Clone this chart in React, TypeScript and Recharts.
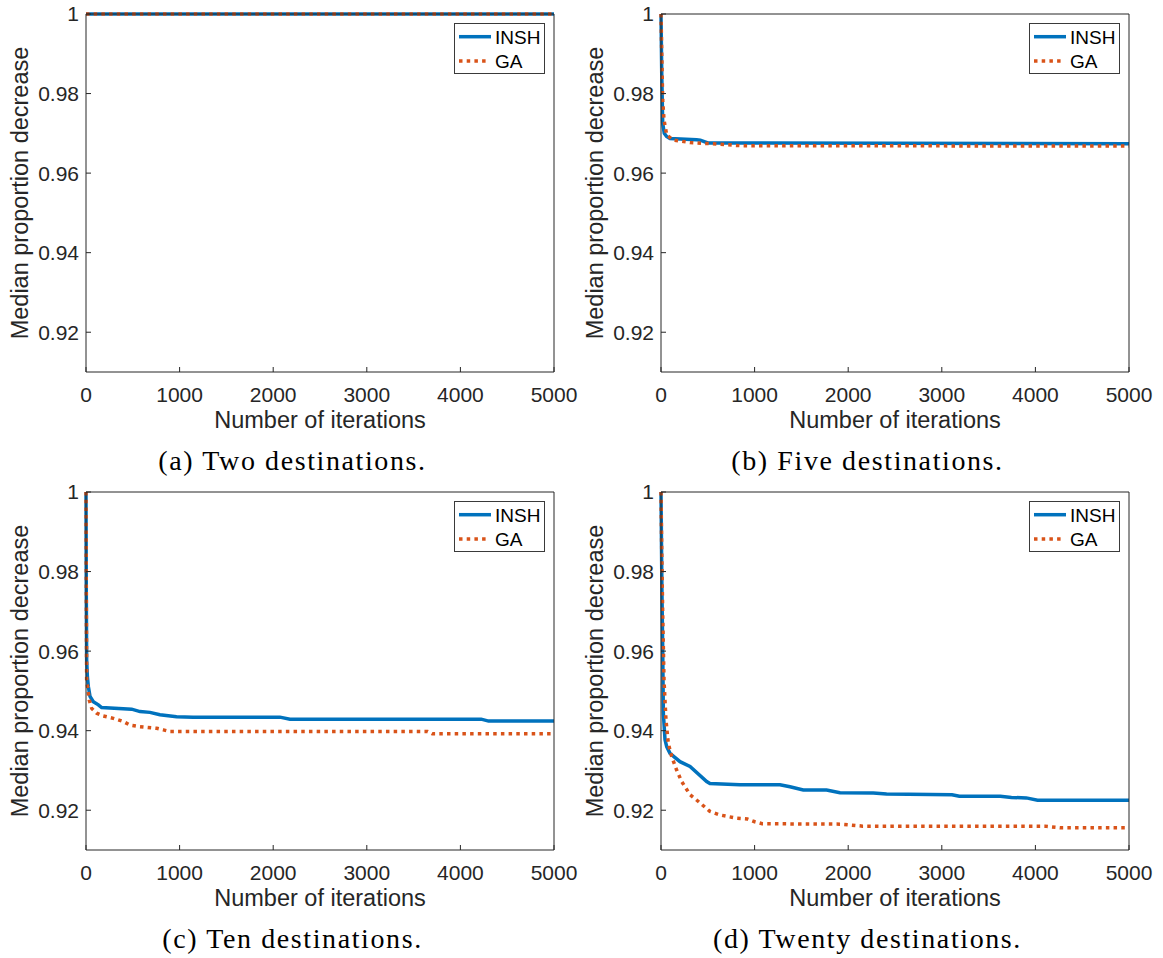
import { LineChart, Line, XAxis, YAxis, Legend } from "recharts";

// axes shared by all four panels
const X_TICKS = [0, 1000, 2000, 3000, 4000, 5000];
const Y_TICKS = [0.92, 0.94, 0.96, 0.98, 1];
const SERIES_ORDER = ["INSH", "GA"];

// [iteration, median proportion decrease]
const INSH_TWO = [[0, 1], [5000, 1]];
const GA_TWO = [[0, 1], [5000, 1]];

const INSH_FIVE = [
  [0, 1], [8, 0.985], [18, 0.9725], [35, 0.97], [60, 0.9692], [96, 0.9687],
  [380, 0.9684], [420, 0.9683], [500, 0.9676], [5000, 0.9674],
];
const GA_FIVE = [
  [0, 1], [8, 0.99], [18, 0.9784], [32, 0.9734], [61, 0.9696], [131, 0.9683],
  [310, 0.9677], [595, 0.9673], [844, 0.9669], [5000, 0.9668],
];

const INSH_TEN = [
  [0, 1], [3, 0.975], [7, 0.9578], [15, 0.9535], [25, 0.9511], [43, 0.9486],
  [78, 0.9473], [132, 0.9465], [167, 0.9458], [488, 0.9454], [577, 0.9448],
  [683, 0.9446], [790, 0.944], [968, 0.9435], [1143, 0.9434], [2072, 0.9434],
  [2179, 0.9429], [4222, 0.9429], [4301, 0.9424], [5000, 0.9424],
];
const GA_TEN = [
  [0, 1], [4, 0.97], [7, 0.9528], [35, 0.9477], [61, 0.9456], [114, 0.9444],
  [185, 0.9437], [292, 0.9431], [399, 0.9423], [470, 0.9414], [577, 0.941],
  [755, 0.9406], [826, 0.9402], [897, 0.9398], [3649, 0.9398], [3700, 0.9392],
  [5000, 0.9392],
];

const INSH_TWENTY = [
  [0, 1], [10, 0.975], [18, 0.961], [25, 0.9444], [43, 0.9377], [61, 0.936],
  [96, 0.9343], [203, 0.9322], [310, 0.931], [488, 0.9272], [523, 0.9267],
  [844, 0.9264], [1271, 0.9264], [1378, 0.9259], [1520, 0.9251], [1769, 0.9251],
  [1912, 0.9244], [2268, 0.9243], [2410, 0.9241], [3109, 0.9239], [3188, 0.9235],
  [3625, 0.9235], [3744, 0.9232], [3903, 0.9231], [4023, 0.9225], [5000, 0.9225],
];
const GA_TWENTY = [
  [0, 1], [8, 0.985], [18, 0.9695], [32, 0.9528], [53, 0.9427], [78, 0.9368],
  [114, 0.9335], [167, 0.9301], [221, 0.9272], [310, 0.9239], [399, 0.9222],
  [523, 0.9197], [630, 0.9188], [808, 0.918], [922, 0.9178], [1002, 0.9171],
  [1081, 0.9166], [1916, 0.9165], [2154, 0.916], [4102, 0.916], [4261, 0.9156],
  [5000, 0.9156],
];

const CAPTIONS = [
  "(a) Two destinations.",
  "(b) Five destinations.",
  "(c) Ten destinations.",
  "(d) Twenty destinations.",
];

const SANS = '"Liberation Sans", Arial, Helvetica, sans-serif';
const SERIF = '"Liberation Serif", "Times New Roman", serif';
const AXIS = "#262626";
const BLUE = "#0072BD";
const ORANGE = "#D95319";

const toPoints = (rows: number[][]) => rows.map(([x, y]) => ({ x, y }));

// matlab style legend box
const LegendBox = (props: any) => {
  const items = [...(props.payload ?? [])].sort(
    (a: any, b: any) => SERIES_ORDER.indexOf(a.value) - SERIES_ORDER.indexOf(b.value)
  );
  return (
    <svg width={91} height={51} style={{ display: "block" }}>
      <rect x={0.5} y={0.5} width={90} height={50} fill="#fff" stroke="#3a3a3a" />
      {items.map((it: any, i: number) => {
        const cy = 13.7 + i * 24.3;
        const dash = it.payload?.strokeDasharray;
        return (
          <g key={i}>
            <line
              x1={5}
              x2={dash ? 33 : 37}
              y1={cy}
              y2={cy}
              stroke={it.color}
              strokeWidth={3.5}
              strokeDasharray={dash}
            />
            <text x={41} y={cy} dy="0.36em" fontSize={19} fontFamily={SANS} fill="#000">
              {it.value}
            </text>
          </g>
        );
      })}
    </svg>
  );
};

interface PanelProps {
  readonly left: number;
  readonly top: number;
  readonly insh: number[][];
  readonly ga: number[][];
  readonly caption: string;
}

function Panel({ left, top, insh, ga, caption }: PanelProps) {
  return (
    <div style={{ position: "absolute", left, top, width: 580, height: 478 }}>
      <LineChart width={580} height={478} margin={{ top: 13, right: 25, bottom: 46, left: 0 }}>
        <XAxis
          dataKey="x"
          type="number"
          domain={[0, 5000]}
          ticks={X_TICKS}
          interval={0}
          height={60}
          stroke={AXIS}
          tickSize={-5}
          tickMargin={20}
          tick={{ fontSize: 21, fill: AXIS, fontFamily: SANS }}
          label={{
            value: "Number of iterations",
            position: "insideBottom",
            offset: 4,
            style: { fontSize: 23.5, fill: AXIS, fontFamily: SANS },
          }}
        />
        <XAxis
          xAxisId="t"
          orientation="top"
          dataKey="x"
          type="number"
          domain={[0, 5000]}
          ticks={X_TICKS}
          interval={0}
          height={1}
          stroke={AXIS}
          tickSize={-5}
          tick={false}
        />
        <YAxis
          type="number"
          domain={[0.91, 1]}
          ticks={Y_TICKS}
          interval={0}
          width={86}
          stroke={AXIS}
          tickSize={-5}
          tickMargin={12}
          tick={{ fontSize: 21, fill: AXIS, fontFamily: SANS }}
          label={{
            value: "Median proportion decrease",
            angle: -90,
            position: "insideLeft",
            offset: 20,
            style: { fontSize: 23.5, fill: AXIS, fontFamily: SANS, textAnchor: "middle" },
          }}
        />
        <YAxis
          yAxisId="r"
          orientation="right"
          type="number"
          domain={[0.91, 1]}
          ticks={Y_TICKS}
          interval={0}
          width={1}
          stroke={AXIS}
          tickSize={-5}
          tick={false}
        />
        <Legend
          layout="vertical"
          align="center"
          verticalAlign="middle"
          content={<LegendBox />}
          wrapperStyle={{ left: 454, top: 23, width: 91, height: 51 }}
        />
        <Line
          data={toPoints(insh)}
          dataKey="y"
          name="INSH"
          type="linear"
          stroke={BLUE}
          strokeWidth={3.5}
          dot={false}
          activeDot={false}
          isAnimationActive={false}
        />
        <Line
          data={toPoints(ga)}
          dataKey="y"
          name="GA"
          type="linear"
          stroke={ORANGE}
          strokeWidth={3.5}
          strokeDasharray="3.5 4.2"
          dot={false}
          activeDot={false}
          isAnimationActive={false}
        />
      </LineChart>
      <div
        style={{
          position: "absolute",
          left: 0,
          top: 446.6,
          width: 585,
          textAlign: "center",
          fontFamily: SERIF,
          fontSize: 28,
          lineHeight: "28px",
          letterSpacing: 1.6,
          color: "#000",
          whiteSpace: "nowrap",
        }}
      >
        {caption}
      </div>
    </div>
  );
}

export default function App() {
  return (
    <div style={{ position: "absolute", left: 0, top: 0, width: 1163, height: 958, background: "#fff" }}>
      <Panel left={0} top={0} insh={INSH_TWO} ga={GA_TWO} caption={CAPTIONS[0]} />
      <Panel left={575} top={0} insh={INSH_FIVE} ga={GA_FIVE} caption={CAPTIONS[1]} />
      <Panel left={0} top={478} insh={INSH_TEN} ga={GA_TEN} caption={CAPTIONS[2]} />
      <Panel left={575} top={478} insh={INSH_TWENTY} ga={GA_TWENTY} caption={CAPTIONS[3]} />
    </div>
  );
}
